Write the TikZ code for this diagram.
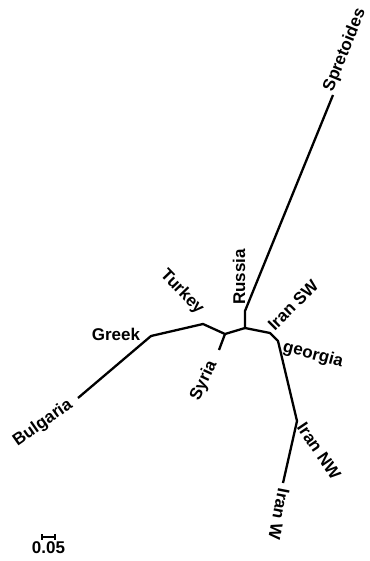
\documentclass[tikz,border=0pt]{standalone}
\usepackage{fontspec}
\setmainfont{Liberation Sans}
\usetikzlibrary{calc}

\begin{document}
\begin{tikzpicture}[x=1pt, y=-1pt,
  branch/.style={line width=2.3pt, line join=round},
  lbl/.style={font=\bfseries\fontsize{17}{20}\selectfont, inner sep=0pt}]
\useasboundingbox (0,0) rectangle (369,561);
% inner nodes of the tree
\coordinate (N1) at (245,328); \coordinate (N2) at (225,334);
\coordinate (N3) at (270,333); \coordinate (N4) at (278,341);
\coordinate (Tu) at (203,324); \coordinate (Gr) at (151,336);
\coordinate (NW) at (297,421);
% tips
\coordinate (Ru) at (245,311); \coordinate (Sp) at (333,95);
\coordinate (Sy) at (219,350); \coordinate (Bu) at (78,398);
\coordinate (W) at (283,483);
\draw[branch] (Sp) -- (Ru) -- (N1) -- (N3) -- (N4) -- (NW) -- (W);
\draw[branch] (N1) -- (N2) -- (Tu) -- (Gr) -- (Bu);
\draw[branch] (N2) -- (Sy);
\foreach \nm/\lab/\ang/\x/\y in {lSp/Spretoides/68/345/50, lRu/Russia/90/239/277,
  lTu/Turkey/-46/182/292, lGr/Greek/0/116/334, lBu/Bulgaria/35/43/423,
  lSy/Syria/65/204/381, lSW/Iran SW/45/293/305, lGe/georgia/-15/313/355,
  lNW/Iran NW/-56/319/451, lW/Iran W/-101/279/514}
  {\node[lbl, rotate=\ang] (\nm) at (\x,\y) {\lab};}
% scale bar
\coordinate (S1) at (42,537); \coordinate (S2) at (55,537);
\draw[line width=1.6pt] (S1) -- (S2);
\draw[line width=1.6pt] ($(S1)+(0,-3)$) -- ($(S1)+(0,3)$);
\draw[line width=1.6pt] ($(S2)+(0,-3)$) -- ($(S2)+(0,3)$);
\node[lbl] (scale) at (48.5,548) {0.05};
\end{tikzpicture}
\end{document}
